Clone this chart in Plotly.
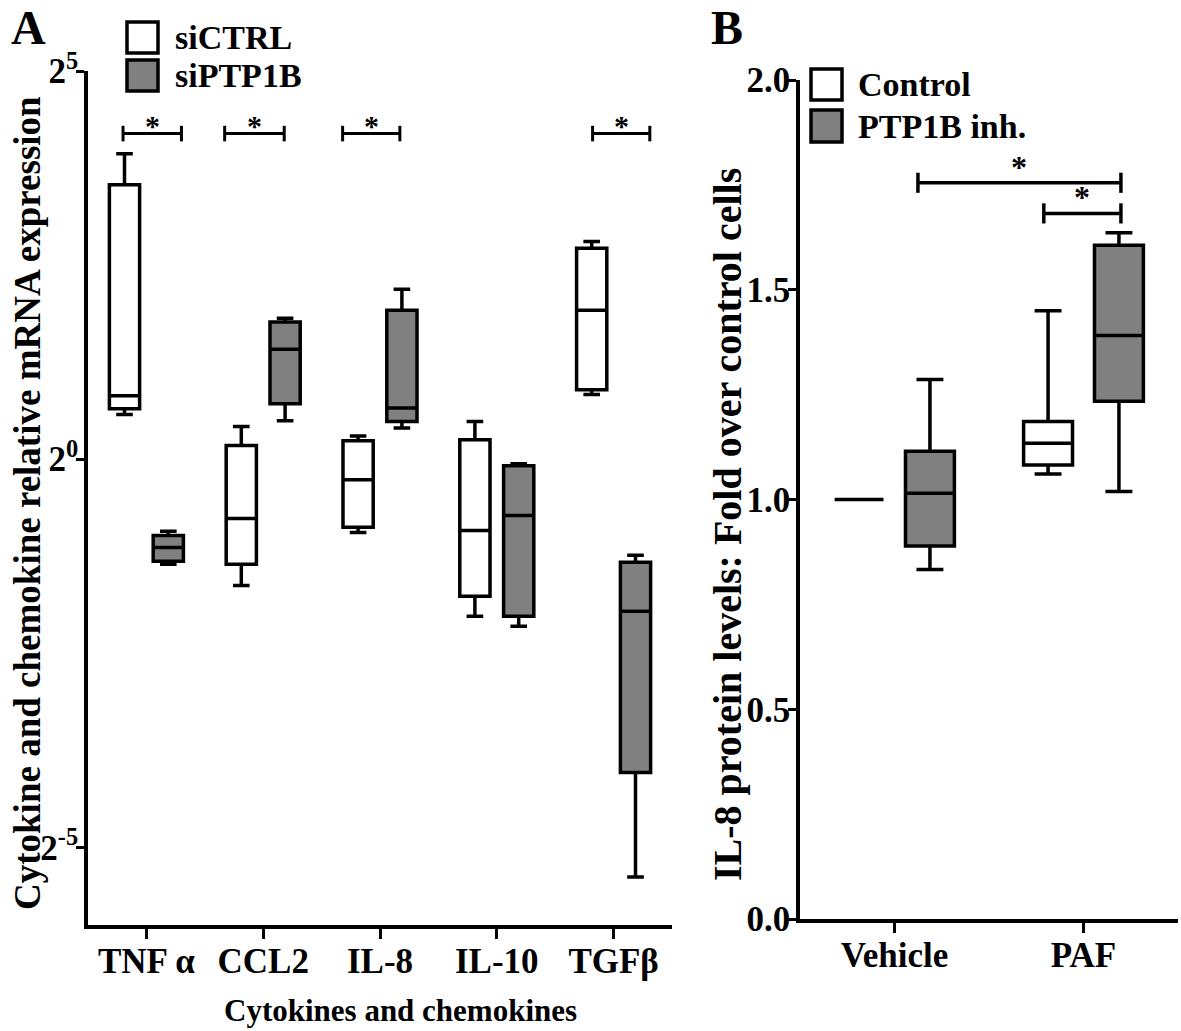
import math
import plotly.graph_objects as go

# ---------------- Data ----------------
categories_A = ["TNF α", "CCL2", "IL-8", "IL-10", "TGFβ"]
# box statistics (relative mRNA expression, fold)
siCTRL_low = [1.49, 0.324, 0.520, 0.246, 1.78]
siCTRL_q1 = [1.57, 0.391, 0.544, 0.294, 1.86]
siCTRL_med = [1.76, 0.589, 0.833, 0.529, 3.78]
siCTRL_q3 = [11.6, 1.13, 1.18, 1.19, 6.57]
siCTRL_high = [15.3, 1.34, 1.23, 1.40, 6.99]

siPTP1B_low = [0.391, 1.41, 1.32, 0.225, 0.024]
siPTP1B_q1 = [0.402, 1.64, 1.40, 0.246, 0.061]
siPTP1B_med = [0.455, 2.67, 1.58, 0.605, 0.257]
siPTP1B_q3 = [0.506, 3.40, 3.78, 0.944, 0.398]
siPTP1B_high = [0.525, 3.52, 4.56, 0.961, 0.424]

sig_A_categories = ["TNF α", "CCL2", "IL-8", "TGFβ"]
sig_A_level = 18.3

categories_B = ["Vehicle", "PAF"]
control_low = [1.0, 1.061]
control_q1 = [1.0, 1.082]
control_med = [1.0, 1.134]
control_q3 = [1.0, 1.186]
control_high = [1.0, 1.450]

inh_low = [0.833, 1.019]
inh_q1 = [0.889, 1.234]
inh_med = [1.015, 1.391]
inh_q3 = [1.115, 1.606]
inh_high = [1.286, 1.636]

sig_B_levels = [1.755, 1.682]

A_ticks = [2 ** 5, 2 ** 0, 2 ** -5]
A_ticktext = ["2<sup>5</sup>", "2<sup>0</sup>", "2<sup>-5</sup>"]
B_ticks = [0.0, 0.5, 1.0, 1.5, 2.0]

# ---------------- Styling helpers ----------------
W, H = 1181, 1031
FONT = "Liberation Serif"
GRAY = "#808080"


def px(x):
    return x / W


def py(y):
    return 1 - y / H


fig = go.Figure()

box_line = dict(color="black", width=3.5)


def add_box(xcats, low, q1, med, q3, high, fill, name, xa, ya, agroup, ogroup):
    fig.add_trace(go.Box(
        x=xcats, lowerfence=low, q1=q1, median=med, q3=q3, upperfence=high,
        fillcolor=fill, line=box_line, whiskerwidth=0.55, boxpoints=False,
        name=name, showlegend=False, xaxis=xa, yaxis=ya, hoverinfo="skip",
        alignmentgroup=agroup, offsetgroup=ogroup,
    ))


add_box(categories_A, siCTRL_low, siCTRL_q1, siCTRL_med, siCTRL_q3, siCTRL_high,
        "white", "siCTRL", "x", "y", "A", "ctrl")
add_box(categories_A, siPTP1B_low, siPTP1B_q1, siPTP1B_med, siPTP1B_q3, siPTP1B_high,
        GRAY, "siPTP1B", "x", "y", "A", "trt")
add_box(categories_B, control_low, control_q1, control_med, control_q3, control_high,
        "white", "Control", "x2", "y2", "B", "ctrl")
add_box(categories_B, inh_low, inh_q1, inh_med, inh_q3, inh_high,
        GRAY, "PTP1B inh.", "x2", "y2", "B", "trt")

shapes = []
annotations = []

# significance bars panel A (offsets relative to category index)
sigA_offsets = {"TNF α": (-0.2, 0.3), "CCL2": (-0.33, 0.18), "IL-8": (-0.32, 0.17), "TGFβ": (-0.18, 0.31)}
capA = 2 ** 0.1
for cat in sig_A_categories:
    i = categories_A.index(cat)
    a, b = sigA_offsets[cat]
    x0, x1 = i + a, i + b
    shapes.append(dict(type="line", xref="x", yref="y", x0=x0, x1=x1, y0=sig_A_level, y1=sig_A_level,
                       line=dict(color="black", width=3)))
    for xx in (x0, x1):
        shapes.append(dict(type="line", xref="x", yref="y", x0=xx, x1=xx,
                           y0=sig_A_level / capA, y1=sig_A_level * capA, line=dict(color="black", width=3)))
    annotations.append(dict(x=(x0 + x1) / 2, y=math.log10(sig_A_level), xref="x", yref="y",
                            text="<b>*</b>", showarrow=False, xanchor="center", yanchor="bottom", yshift=-10,
                            font=dict(family=FONT, size=30, color="black")))

# significance bars panel B
sigB_spans = [(0.124, 1.198), (0.79, 1.198)]
capB = 0.024
for (x0, x1), lvl in zip(sigB_spans, sig_B_levels):
    shapes.append(dict(type="line", xref="x2", yref="y2", x0=x0, x1=x1, y0=lvl, y1=lvl,
                       line=dict(color="black", width=3.5)))
    for xx in (x0, x1):
        shapes.append(dict(type="line", xref="x2", yref="y2", x0=xx, x1=xx,
                           y0=lvl - capB, y1=lvl + capB, line=dict(color="black", width=3.5)))
    annotations.append(dict(x=(x0 + x1) / 2, y=lvl, xref="x2", yref="y2",
                            text="<b>*</b>", showarrow=False, xanchor="center", yanchor="bottom", yshift=-4,
                            font=dict(family=FONT, size=32, color="black")))


# legends (drawn manually)
def legend_item(x0, y0, size_x, size_y, fill, label, text_x):
    shapes.append(dict(type="rect", xref="paper", yref="paper",
                       x0=px(x0), x1=px(x0 + size_x), y0=py(y0 + size_y), y1=py(y0),
                       fillcolor=fill, line=dict(color="black", width=3.5)))
    annotations.append(dict(x=px(text_x), y=py(y0 + size_y / 2), xref="paper", yref="paper",
                            text=f"<b>{label}</b>", showarrow=False, xanchor="left", yanchor="middle",
                            font=dict(family=FONT, size=34, color="black")))


legend_item(127, 22, 31, 31, "white", "siCTRL", 173)
legend_item(127, 60, 31, 31, GRAY, "siPTP1B", 173)
legend_item(811, 69, 31, 31, "white", "Control", 856)
legend_item(811, 110, 31, 32, GRAY, "PTP1B inh.", 856)


def text_at(x, y, text, size, angle=0):
    annotations.append(dict(x=px(x), y=py(y), xref="paper", yref="paper", text=f"<b>{text}</b>",
                            textangle=angle, showarrow=False, xanchor="center", yanchor="middle",
                            font=dict(family=FONT, size=size, color="black")))


# panel letters
text_at(28, 27, "A", 48)
text_at(727, 27, "B", 48)

# axis titles
text_at(27, 503, "Cytokine and chemokine relative mRNA expression", 37, -90)
text_at(400, 1010, "Cytokines and chemokines", 31)
text_at(727, 525, "IL-8 protein levels: Fold over control cells", 40, -90)

axis_common = dict(showline=True, linecolor="black", linewidth=3.5, ticks="outside",
                   tickwidth=3, tickcolor="black", showgrid=False, zeroline=False, automargin=False,
                   tickfont=dict(family=FONT, size=35, color="black", weight="bold"))

fig.update_layout(
    width=W, height=H, margin=dict(l=0, r=0, t=0, b=0, autoexpand=False),
    paper_bgcolor="white", plot_bgcolor="white",
    boxmode="group", boxgap=0.25, boxgroupgap=0.31,
    showlegend=False,
    xaxis=dict(domain=[px(88), px(672)], anchor="y", range=[-0.5, 4.5], ticklen=10,
               ticklabelstandoff=-8,
               type="category", categoryorder="array", categoryarray=categories_A, **axis_common),
    yaxis=dict(domain=[py(925), py(71)], anchor="x", type="log",
               range=[math.log10(2 ** -6), math.log10(2 ** 5)], ticklabelstandoff=-9,
               tickvals=A_ticks, ticktext=A_ticktext, ticklen=8, **axis_common),
    xaxis2=dict(domain=[px(800), px(1178)], anchor="y2", range=[-0.5, 1.5], ticklen=10,
                ticklabelstandoff=-8,
                type="category", categoryorder="array", categoryarray=categories_B, **axis_common),
    yaxis2=dict(domain=[py(919), py(80)], anchor="x2", range=[0, 2.0], ticklabelstandoff=-9,
                tickvals=B_ticks, ticktext=[f"{v:.1f}" for v in B_ticks], ticklen=8, **axis_common),
    shapes=shapes, annotations=annotations,
)

fig.write_html("out.html", post_script="document.body.style.margin='0';",
               config={"displayModeBar": False})
